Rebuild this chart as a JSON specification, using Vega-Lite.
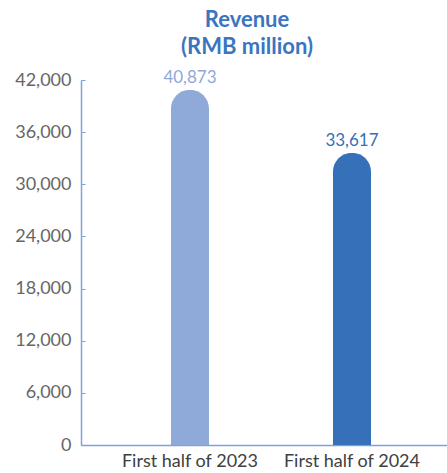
{
  "$schema": "https://vega.github.io/schema/vega-lite/v6.json",
  "autosize": "none",
  "width": 366,
  "height": 365,
  "padding": {"left": 81, "top": 80, "right": 0, "bottom": 28},
  "background": "white",
  "config": {"view": {"stroke": null}},
  "title": {
    "text": ["Revenue", "(RMB million)"],
    "font": "Lato",
    "fontSize": 22,
    "fontWeight": "bold",
    "color": "#3A75BF",
    "anchor": "middle",
    "dx": -17,
    "offset": 10,
    "lineHeight": 27
  },
  "data": {
    "values": [
      {"period": "First half of 2023", "revenue": 40873},
      {"period": "First half of 2024", "revenue": 33617}
    ]
  },
  "encoding": {
    "x": {
      "field": "period",
      "type": "nominal",
      "sort": null,
      "scale": {"paddingInner": 0.765, "paddingOuter": 0.512, "align": 0.542},
      "axis": {
        "title": null,
        "labelAngle": 0,
        "ticks": false,
        "domainColor": "#7BA3DA",
        "domainWidth": 1.5,
        "labelFont": "Lato",
        "labelFontSize": 18,
        "labelColor": "#404040",
        "labelPadding": 7
      }
    },
    "y": {
      "field": "revenue",
      "type": "quantitative",
      "scale": {"domain": [0, 42000], "nice": false},
      "axis": {
        "title": null,
        "values": [0, 6000, 12000, 18000, 24000, 30000, 36000, 42000],
        "format": ",d",
        "grid": false,
        "domainColor": "#7BA3DA",
        "domainWidth": 1.5,
        "tickColor": "#7BA3DA",
        "tickSize": -4,
        "labelFont": "Lato",
        "labelFontSize": 18,
        "labelColor": "#666666",
        "labelPadding": 14
      }
    },
    "color": {
      "field": "period",
      "type": "nominal",
      "scale": {"domain": ["First half of 2023", "First half of 2024"], "range": ["#8FA9D8", "#3670B8"]},
      "legend": null
    }
  },
  "layer": [
    {
      "mark": {"type": "bar", "cornerRadiusTopLeft": 19, "cornerRadiusTopRight": 19}
    },
    {
      "mark": {"type": "text", "baseline": "alphabetic", "dy": -7, "font": "Lato", "fontSize": 17},
      "encoding": {
        "text": {"field": "revenue", "type": "quantitative", "format": ",d"}
      }
    }
  ]
}
